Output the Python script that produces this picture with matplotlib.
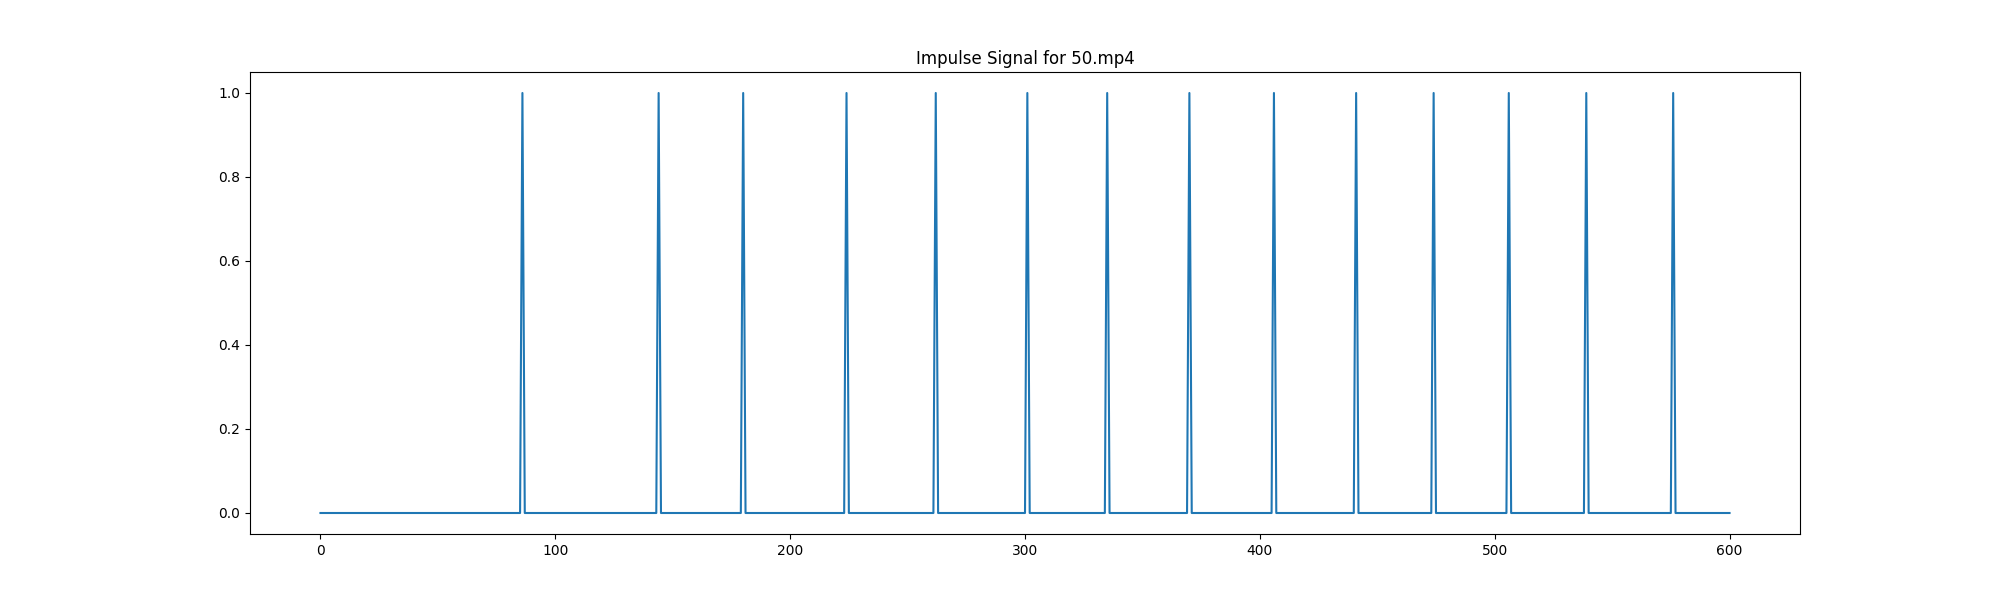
import numpy as np
import matplotlib.pyplot as plt

# frames where an impulse occurs
n_frames = 601
peak_frames = [86, 144, 180, 224, 262, 301, 335, 370, 406, 441, 474, 506, 539, 576]

frames = np.arange(n_frames)
impulse = np.zeros(n_frames)
impulse[peak_frames] = 1

plt.figure(figsize=(20, 6))
plt.plot(frames, impulse)
plt.title('Impulse Signal for 50.mp4')
plt.savefig('out.png', dpi=100)
